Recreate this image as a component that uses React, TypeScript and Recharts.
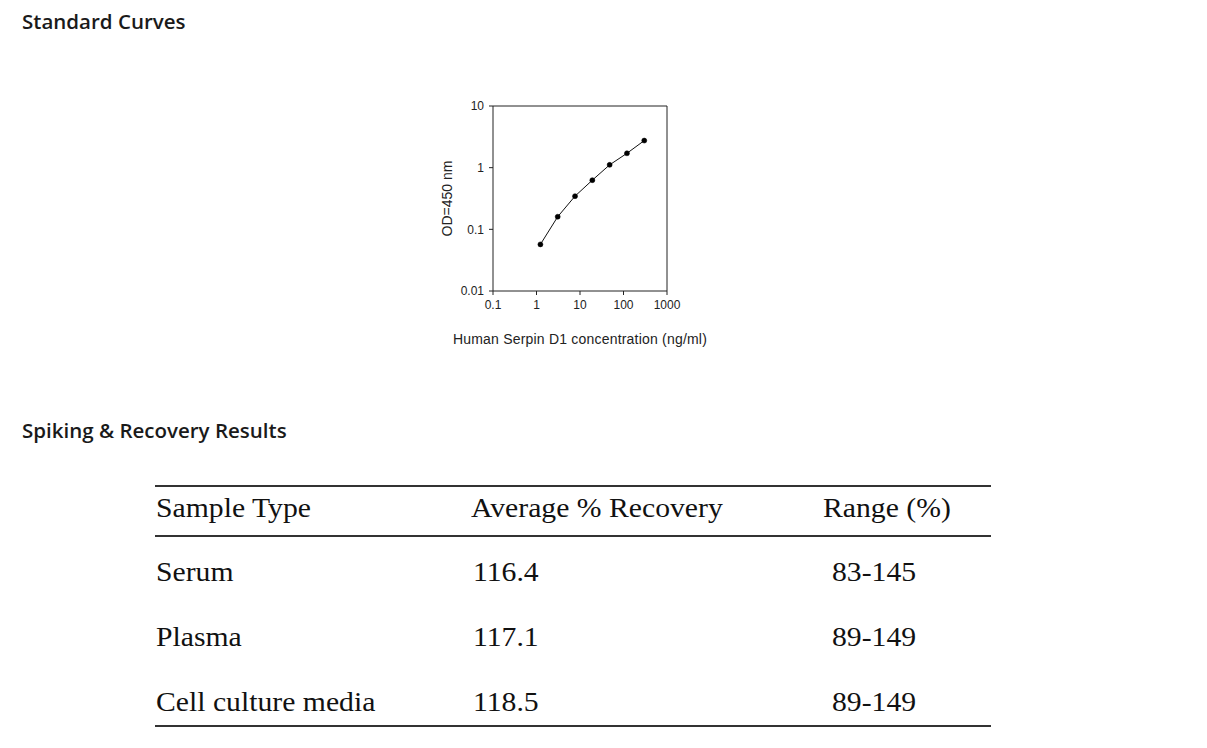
import {
  LineChart,
  Line,
  XAxis,
  YAxis,
  ReferenceLine,
} from 'recharts';

// standard curve: concentration (ng/ml) vs OD450
const concentrations = [1.23, 3.07, 7.68, 19.2, 48, 120, 300];
const odValues = [0.057, 0.16, 0.345, 0.627, 1.11, 1.71, 2.75];

const xTicks = [0.1, 1, 10, 100, 1000];
const yTicks = [0.01, 0.1, 1, 10];

// spiking & recovery table
const tableHeaders = ['Sample Type', 'Average % Recovery', 'Range (%)'];
const sampleTypes = ['Serum', 'Plasma', 'Cell culture media'];
const avgRecovery = ['116.4', '117.1', '118.5'];
const recoveryRanges = ['83-145', '89-149', '89-149'];

const curveData = concentrations.map((c, i) => ({ conc: c, od: odValues[i] }));

const labelFont = '"Liberation Sans", Arial, sans-serif';
const tickStyle = { fontSize: 12, fill: '#222', fontFamily: labelFont };

function Heading({ text, top }: { text: string; top: number }) {
  return (
    <div
      style={{
        position: 'absolute',
        left: 22,
        top,
        fontFamily: '"Open Sans", sans-serif',
        fontWeight: 600,
        fontSize: 20.5,
        lineHeight: '28px',
        color: '#1a1a1a',
        whiteSpace: 'nowrap',
      }}
    >
      {text}
    </div>
  );
}

function Cell({ text, left, baseline }: { text: string; left: number; baseline: number }) {
  return (
    <div
      style={{
        position: 'absolute',
        left,
        top: baseline - 24,
        fontFamily: '"Liberation Serif", "Times New Roman", serif',
        fontSize: 27,
        lineHeight: '30px',
        color: '#111',
        whiteSpace: 'nowrap',
        transform: 'scaleX(1.1)',
        transformOrigin: 'left center',
      }}
    >
      {text}
    </div>
  );
}

function HLine({ top }: { top: number }) {
  return (
    <div
      style={{
        position: 'absolute',
        left: 155,
        top,
        width: 836,
        height: 1.5,
        background: '#333',
      }}
    />
  );
}

function StandardCurve() {
  return (
    <div style={{ position: 'absolute', left: 420, top: 96 }}>
      <LineChart
        width={320}
        height={260}
        data={curveData}
        margin={{ top: 10, right: 73, left: 0, bottom: 0 }}
      >
        <XAxis
          dataKey="conc"
          type="number"
          scale="log"
          domain={[0.1, 1000]}
          ticks={xTicks}
          allowDataOverflow
          height={65}
          tick={tickStyle}
          tickSize={4}
          tickMargin={5}
          stroke="#222"
          label={{
            value: 'Human Serpin D1 concentration (ng/ml)',
            position: 'insideBottom',
            offset: 12,
            style: { fontSize: 14, fill: '#222', fontFamily: labelFont, letterSpacing: 0.2 },
          }}
        />
        <YAxis
          type="number"
          scale="log"
          domain={[0.01, 10]}
          ticks={yTicks}
          allowDataOverflow
          width={73}
          tick={tickStyle}
          tickSize={4}
          tickMargin={5}
          stroke="#222"
          label={{
            value: 'OD=450 nm',
            angle: -90,
            position: 'insideLeft',
            offset: 27,
            style: { fontSize: 14, fill: '#222', fontFamily: labelFont, textAnchor: 'middle' },
          }}
        />
        <ReferenceLine y={10} stroke="#222" />
        <ReferenceLine x={1000} stroke="#222" />
        <Line
          dataKey="od"
          type="linear"
          stroke="#111"
          strokeWidth={1}
          dot={{ r: 2.5, fill: '#000', stroke: '#000', strokeWidth: 0.5 }}
          isAnimationActive={false}
        />
      </LineChart>
    </div>
  );
}

const headerBaseline = 517;
const rowBaselines = [581, 646, 711];
const colLefts = [156, 471, 823];
const valueLefts = [156, 473, 832];

export default function App() {
  return (
    <div style={{ position: 'absolute', left: 0, top: 0, width: 1207, height: 748, background: '#fff' }}>
      <Heading text="Standard Curves" top={7} />
      <StandardCurve />
      <Heading text="Spiking & Recovery Results" top={416} />

      <HLine top={485} />
      <HLine top={535} />
      <HLine top={725} />

      {tableHeaders.map((h, i) => (
        <Cell key={h} text={h} left={colLefts[i]} baseline={headerBaseline} />
      ))}
      {sampleTypes.map((s, i) => (
        <div key={s}>
          <Cell text={s} left={valueLefts[0]} baseline={rowBaselines[i]} />
          <Cell text={avgRecovery[i]} left={valueLefts[1]} baseline={rowBaselines[i]} />
          <Cell text={recoveryRanges[i]} left={valueLefts[2]} baseline={rowBaselines[i]} />
        </div>
      ))}
    </div>
  );
}
